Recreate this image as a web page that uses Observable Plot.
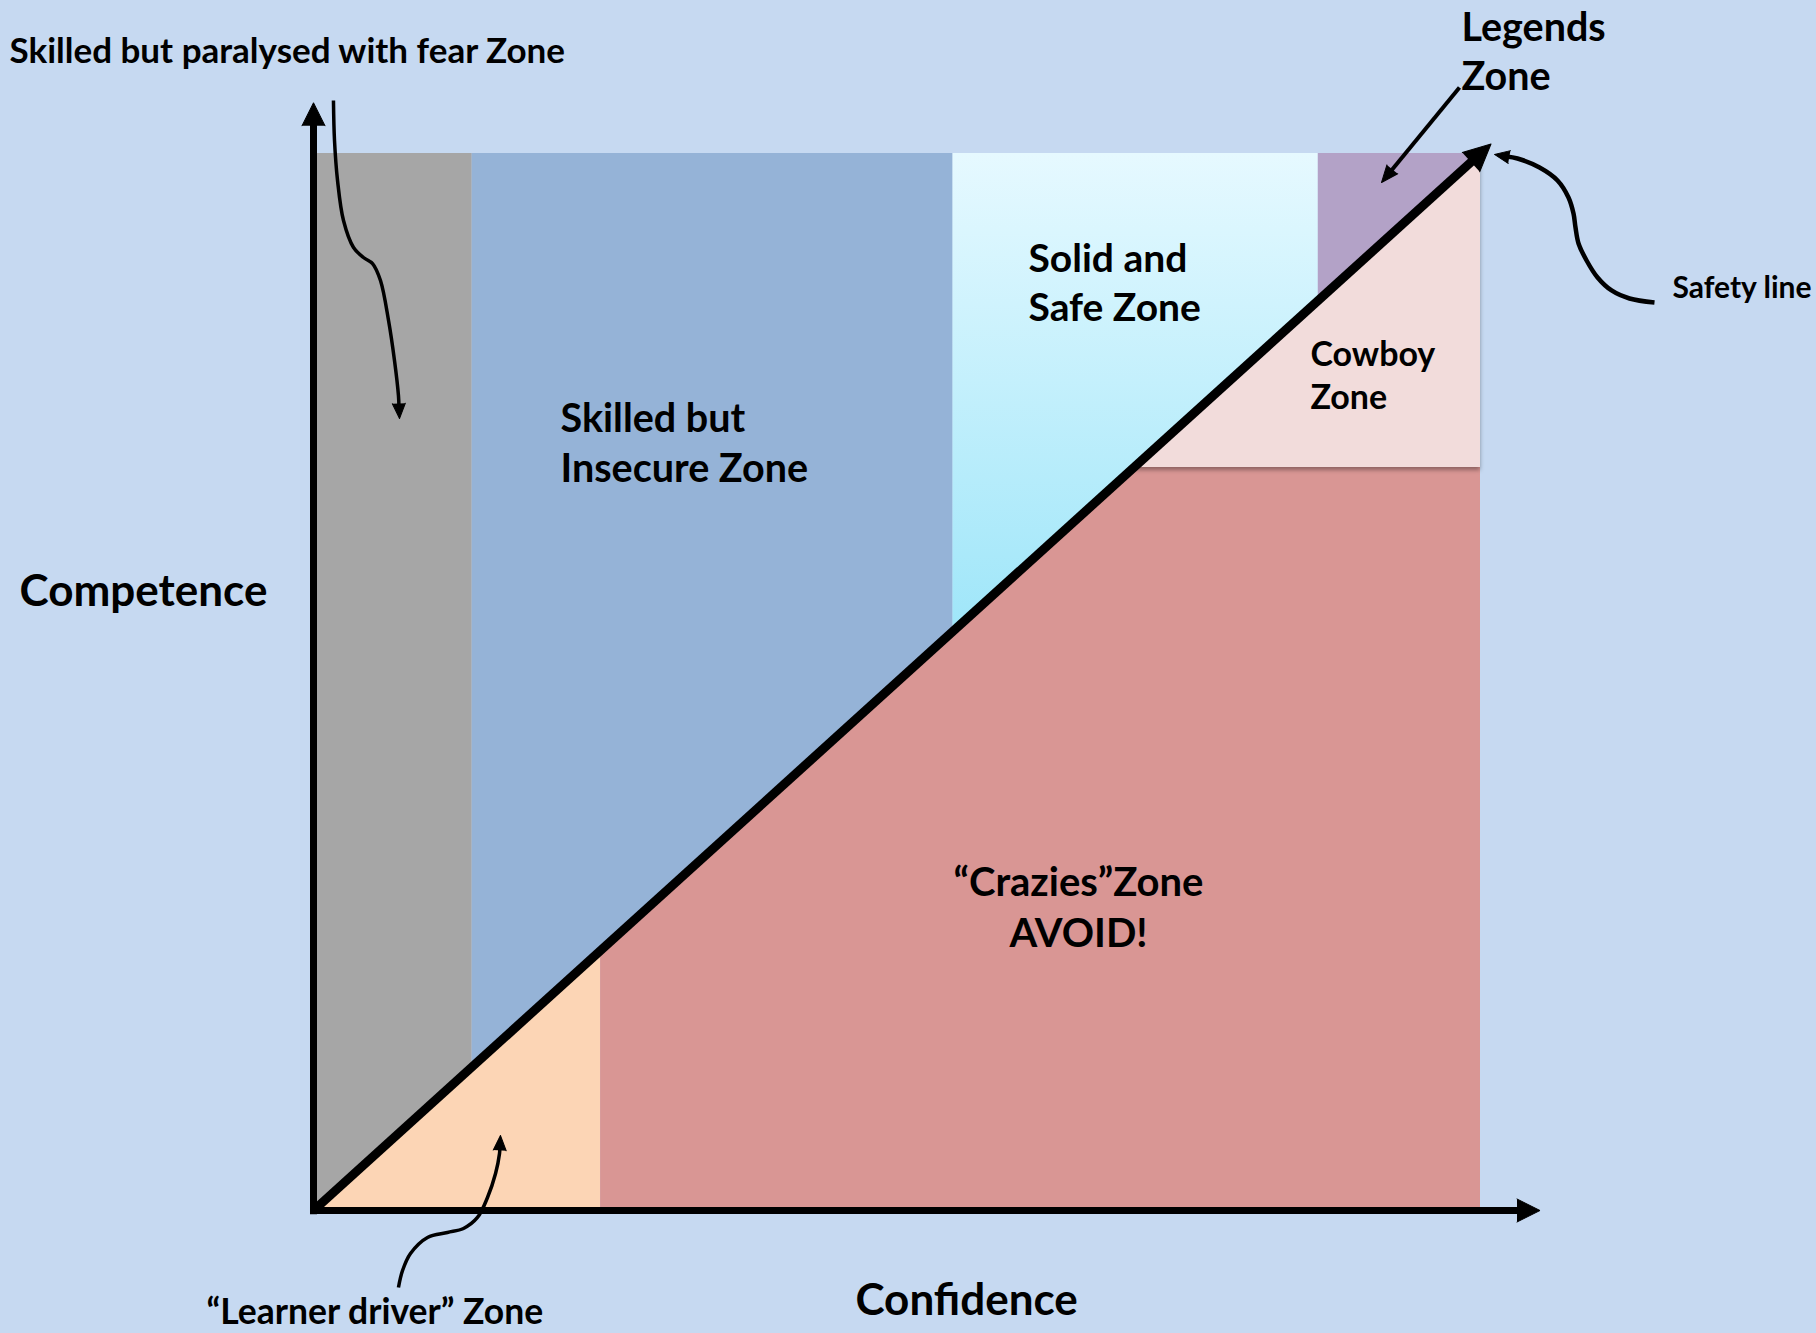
<!DOCTYPE html>
<html>
<head>
<meta charset="utf-8">
<script src="https://cdn.jsdelivr.net/npm/d3@7"></script>
<script src="https://cdn.jsdelivr.net/npm/@observablehq/plot@0.6"></script>
<style>
  html, body { margin: 0; padding: 0; background: #c6d9f1; overflow: hidden; }
  #chart svg { display: block; }
</style>
</head>
<body>
<div id="chart"></div>
<script>
// ================= DATA (confidence on x, competence on y, both 0–100) =================
const maxConfidence = 100;
const maxCompetence = 100;

// Zones lying above the safety line (competence > confidence)
const aboveZoneNames = ["Skilled but paralysed with fear Zone", "Skilled but Insecure Zone", "Solid and Safe Zone", "Legends Zone"];
const aboveZoneStart = [0, 13.6, 54.8, 86.1];
const aboveZoneEnd   = [13.6, 54.8, 86.1, 100];

// Zones lying below the safety line (confidence > competence)
const belowZoneNames = ["“Learner driver” Zone", "“Crazies” Zone", "Cowboy Zone"];
const belowZoneStart = [0, 24.6, 70.3];
const belowZoneEnd   = [24.6, 100, 100];
const belowZoneFloor = [0, 0, 70.3];
const belowZoneCeil  = [100, 70.3, 100];

// Safety line (competence = confidence) and the axes
const safetyLine = [[0, 0], [100.9, 100.9]];
const competenceAxis = [[0, -0.35], [0, 104.8]];
const confidenceAxis = [[-0.3, 0], [105.1, 0]];

// Hand-drawn annotation arrows (last point is the arrow tip)
const paralysedArrow = [[1.71, 105.01], [1.80, 101.23], [2.06, 97.45], [2.57, 93.66], [3.43, 91.11], [4.28, 90.16], [5.06, 89.59], [5.74, 87.98], [6.43, 84.20], [6.94, 80.42], [7.28, 77.10], [7.37, 74.93]];
const legendsArrow   = [[98.20, 106.24], [91.52, 97.26]];
const safetyArrow    = [[114.91, 85.90], [112.77, 86.28], [111.23, 87.04], [110.03, 88.27], [109.09, 89.88], [108.40, 91.49], [108.14, 93.00], [107.97, 94.32], [107.54, 95.84], [106.60, 97.45], [105.06, 98.68], [103.17, 99.53], [101.20, 99.91]];
const learnerArrow   = [[7.28, -7.28], [7.63, -5.68], [8.31, -4.07], [9.77, -2.55], [11.48, -2.08], [12.85, -1.70], [14.05, -0.66], [14.91, 1.23], [15.60, 3.50], [15.94, 5.39], [16.02, 7.10]];

// Text labels and their anchors (data units)
const labelTexts = ["Skilled but paralysed with fear Zone", "Skilled but\nInsecure Zone", "Solid and\nSafe Zone", "Legends\nZone", "Safety line", "Cowboy\nZone", "“Crazies”Zone\nAVOID!", "“Learner driver” Zone", "Competence", "Confidence"];
const labelConfidence = [-26.05, 21.17, 61.27, 98.37, 116.45, 85.43, 65.55, -9.17, -25.19, 46.44];
const labelCompetence = [109.87, 72.83, 87.97, 109.8, 87.5, 79.2, 28.9, -9.4, 58.85, -8.15];

// ================= STYLE / LAYOUT =================
const W = 1816, H = 1333;
const M = {top: 153, right: 336, bottom: 123, left: 313};
const FONT = "Lato, 'Open Sans', sans-serif";
const zoneFill = {
  "Skilled but paralysed with fear Zone": "#a6a6a6",
  "Skilled but Insecure Zone": "#95b3d7",
  "Solid and Safe Zone": "url(#solid-safe-gradient)",
  "Legends Zone": "#b3a2c7",
  "“Learner driver” Zone": "#fcd5b5",
  "“Crazies” Zone": "#d99694",
  "Cowboy Zone": "#f2dcdb"
};
const labelStyle = [
  {size: 35, anchor: "start", lh: 1.27},
  {size: 39.5, anchor: "start", lh: 1.27},
  {size: 39, anchor: "start", lh: 1.27},
  {size: 39.5, anchor: "start", lh: 1.24},
  {size: 30, anchor: "start", lh: 1.27},
  {size: 34, anchor: "start", lh: 1.27},
  {size: 40, anchor: "middle", lh: 1.27},
  {size: 35.5, anchor: "start", lh: 1.27},
  {size: 44, anchor: "start", lh: 1.27},
  {size: 44, anchor: "start", lh: 1.27}
];

// Scales shared with the plot, used to orient arrowheads
const X = Plot.scale({x: {domain: [0, maxConfidence], range: [M.left, W - M.right]}});
const Y = Plot.scale({y: {domain: [0, maxCompetence], range: [H - M.bottom, M.top]}});
const px = ([a, b]) => [X.apply(a), Y.apply(b)];
function heading(pts) {
  const n = pts.length;
  const [x0, y0] = px(pts[n - 2]), [x1, y1] = px(pts[n - 1]);
  return Math.atan2(x1 - x0, -(y1 - y0)) * 180 / Math.PI;
}
function trimEnd(pts, len) {
  const n = pts.length;
  const [x0, y0] = px(pts[n - 2]), [x1, y1] = px(pts[n - 1]);
  const t = len / Math.hypot(x1 - x0, y1 - y0);
  return [...pts.slice(0, n - 1), [X.invert(x1 - (x1 - x0) * t), Y.invert(y1 - (y1 - y0) * t)]];
}

// Zone polygons built from the thresholds and the safety line (competence = confidence)
const aboveMarks = aboveZoneNames.map((name, i) => {
  const pts = [aboveZoneStart[i], aboveZoneEnd[i]].map(c => ({c, lo: c, hi: maxCompetence}));
  return Plot.areaY(pts, {x: "c", y1: "lo", y2: "hi", fill: zoneFill[name]});
});
const belowMarks = belowZoneNames.map((name, i) => {
  const s = belowZoneStart[i], e = belowZoneEnd[i], f = belowZoneFloor[i], c = belowZoneCeil[i];
  const xs = [s, ...(c > s && c < e ? [c] : []), e];
  const pts = xs.map(x => ({x, lo: f, hi: Math.min(x, c)}));
  return Plot.areaY(pts, {x: "x", y1: "lo", y2: "hi", fill: zoneFill[name]});
});

function arrowLine(pts, width, head, r, curve) {
  return [
    Plot.line(trimEnd(pts, head * 0.8), {curve, stroke: "black", strokeWidth: width, strokeLinecap: "butt", strokeLinejoin: "round"}),
    Plot.vector([pts[pts.length - 1]], {x: d => d[0], y: d => d[1], rotate: heading(pts), length: head, r, anchor: "end", shape: "spike", fill: "black", stroke: "black", strokeWidth: 1})
  ];
}

const labelMarks = labelTexts.map((t, i) => Plot.text([i], {
  x: j => labelConfidence[j], y: j => labelCompetence[j], text: j => labelTexts[j],
  fontSize: labelStyle[i].size, textAnchor: labelStyle[i].anchor, lineAnchor: "middle", lineHeight: labelStyle[i].lh,
  fontWeight: "bold", fontFamily: FONT, fill: "#000"
}));

const svg = Plot.plot({
  width: W, height: H,
  marginTop: M.top, marginRight: M.right, marginBottom: M.bottom, marginLeft: M.left,
  x: {domain: [0, maxConfidence], axis: null},
  y: {domain: [0, maxCompetence], axis: null},
  style: {background: "#c6d9f1", fontFamily: FONT},
  marks: [
    ...aboveMarks,
    ...belowMarks,
    ...arrowLine(competenceAxis, 7, 23, 11.5, "linear"),
    ...arrowLine(confidenceAxis, 7, 23, 11.5, "linear"),
    ...arrowLine(safetyLine, 9, 27, 13, "linear"),
    ...arrowLine(paralysedArrow, 3.5, 15, 6.5, "catmull-rom"),
    ...arrowLine(legendsArrow, 4, 17, 7, "linear"),
    ...arrowLine(safetyArrow, 4.5, 15, 6.5, "catmull-rom"),
    ...arrowLine(learnerArrow, 3.5, 15, 6.5, "catmull-rom"),
    ...labelMarks
  ]
});

// gradient for the "Solid and Safe" zone and a soft shadow under the Cowboy zone
const defs = document.createElementNS("http://www.w3.org/2000/svg", "defs");
defs.innerHTML = `
  <linearGradient id="solid-safe-gradient" x1="0" y1="0" x2="0" y2="1">
    <stop offset="0" stop-color="#e6f9ff"/>
    <stop offset="1" stop-color="#9fe6f9"/>
  </linearGradient>
  <filter id="zone-shadow" x="-5%" y="-5%" width="110%" height="120%">
    <feDropShadow dx="0" dy="3" stdDeviation="2" flood-color="#000" flood-opacity="0.35"/>
  </filter>`;
svg.insertBefore(defs, svg.firstChild);
const cow = svg.querySelector('g[fill="#f2dcdb"], path[fill="#f2dcdb"]');
if (cow) cow.setAttribute("filter", "url(#zone-shadow)");
document.getElementById("chart").appendChild(svg);
</script>
</body>
</html>
